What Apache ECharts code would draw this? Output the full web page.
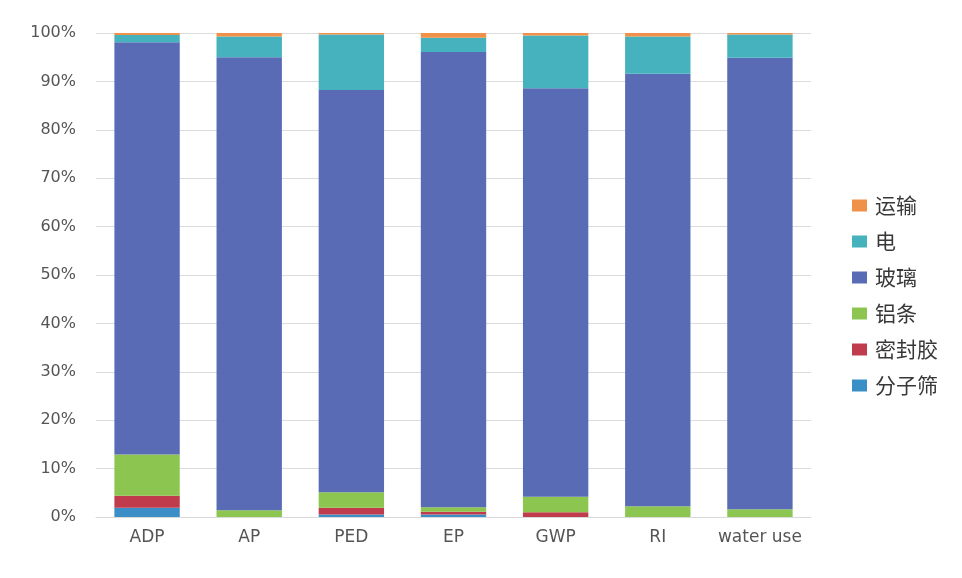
<!DOCTYPE html>
<html>
<head>
<meta charset="utf-8">
<script src="https://cdn.jsdelivr.net/npm/echarts@6/dist/echarts.min.js"></script>
<style>
  html, body { margin: 0; padding: 0; background: #ffffff; }
  #chart { width: 962px; height: 578px; }
</style>
</head>
<body>
<div id="chart"></div>
<script>
// Impact categories along the x axis
const categories = ['ADP', 'AP', 'PED', 'EP', 'GWP', 'RI', 'water use'];

// Share of each component in every impact category (%), stacked bottom to top
const molecularSieve = [1.9, 0.0, 0.5, 0.5, 0.0, 0.0, 0.0];   // 分子筛
const sealant        = [2.5, 0.0, 1.4, 0.6, 1.0, 0.0, 0.0];   // 密封胶
const aluminiumBar   = [8.5, 1.4, 3.2, 0.9, 3.2, 2.2, 1.6];   // 铝条
const glass          = [85.2, 93.6, 83.1, 94.1, 84.4, 89.4, 93.3]; // 玻璃
const electricity    = [1.5, 4.3, 11.5, 2.9, 10.9, 7.7, 4.8]; // 电
const transport      = [0.4, 0.7, 0.3, 1.0, 0.5, 0.7, 0.3];   // 运输

const yTicks = { min: 0, max: 100, step: 10 };

const seriesDefs = [
  { name: '分子筛', data: molecularSieve, color: '#3b8fc7' },
  { name: '密封胶', data: sealant,        color: '#c03c4c' },
  { name: '铝条',   data: aluminiumBar,   color: '#8cc650' },
  { name: '玻璃',   data: glass,          color: '#5a6bb6' },
  { name: '电',     data: electricity,    color: '#45b2be' },
  { name: '运输',   data: transport,      color: '#f0914a' }
];

const chart = echarts.init(document.getElementById('chart'), null, { renderer: 'canvas' });

const axisFont = '"DejaVu Sans", sans-serif';
const cjkFont = '"Noto Sans CJK SC", sans-serif';

chart.setOption({
  backgroundColor: '#ffffff',
  animation: false,
  grid: { left: 96, right: 151, top: 33, bottom: 61 },
  legend: {
    orient: 'vertical',
    left: 847,
    top: 190,
    itemWidth: 15,
    itemHeight: 12,
    itemGap: 15,
    icon: 'rect',
    data: seriesDefs.map(s => s.name).reverse(),
    textStyle: { fontSize: 21, color: '#383838', fontFamily: cjkFont, padding: [0, 0, 0, 3] }
  },
  xAxis: {
    type: 'category',
    data: categories,
    axisTick: { show: false },
    axisLine: { lineStyle: { color: '#d9d9d9', width: 1 } },
    axisLabel: { interval: 0, fontSize: 17, color: '#555555', margin: 12, fontFamily: axisFont }
  },
  yAxis: {
    type: 'value',
    min: yTicks.min,
    max: yTicks.max,
    interval: yTicks.step,
    axisLine: { show: false },
    axisTick: { show: false },
    splitLine: { lineStyle: { color: '#dcdcdc', width: 1 } },
    axisLabel: { formatter: '{value}%', fontSize: 16, color: '#555555', margin: 20, fontFamily: axisFont }
  },
  series: seriesDefs.map(s => ({
    name: s.name,
    type: 'bar',
    stack: 'total',
    barWidth: '64%',
    data: s.data,
    itemStyle: { color: s.color }
  }))
});
</script>
</body>
</html>
